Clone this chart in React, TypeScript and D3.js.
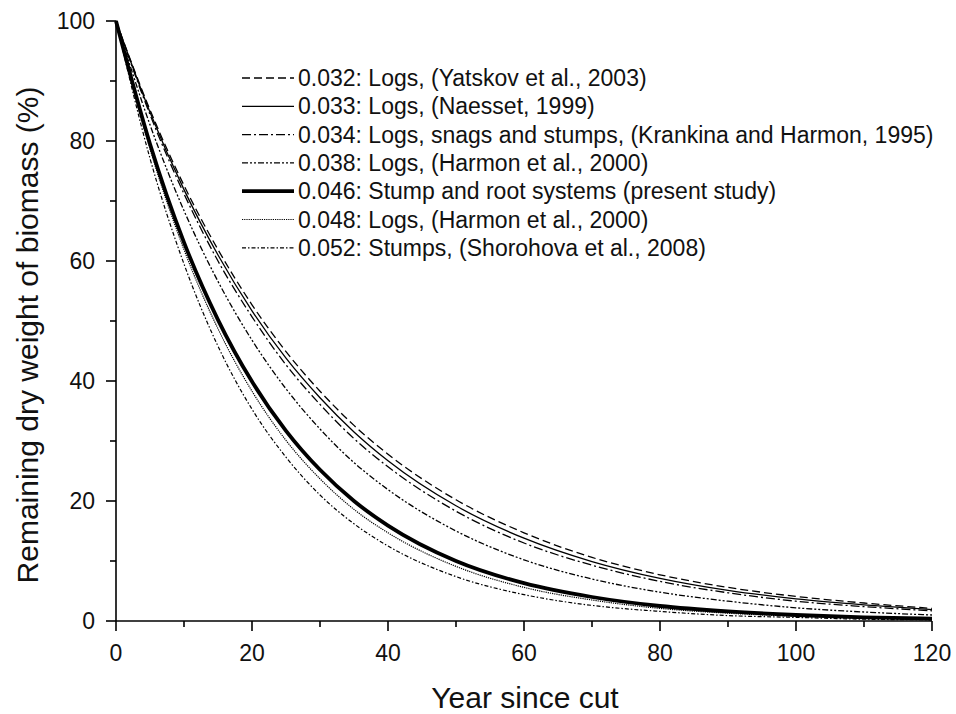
import React, { useEffect } from "react";
import * as d3 from "d3";

const years = [0, 5, 10, 15, 20, 25, 30, 35, 40, 50, 60, 70, 80, 90, 100, 110, 120];

// remaining dry weight (%) per source
const yatskov2003 = [100, 85.2, 72.6, 61.9, 52.7, 44.9, 38.3, 32.6, 27.8, 20.2, 14.7, 10.6, 7.7, 5.6, 4.1, 3.0, 2.1];
const naesset1999 = [100, 84.8, 71.9, 61.0, 51.7, 43.8, 37.2, 31.5, 26.7, 19.2, 13.8, 9.9, 7.1, 5.1, 3.7, 2.7, 1.9];
const krankina1995 = [100, 84.4, 71.2, 60.0, 50.7, 42.7, 36.1, 30.4, 25.7, 18.3, 13.0, 9.3, 6.6, 4.7, 3.3, 2.4, 1.7];
const harmon2000a = [100, 82.7, 68.4, 56.6, 46.8, 38.7, 32.0, 26.4, 21.9, 15.0, 10.2, 7.0, 4.8, 3.3, 2.2, 1.5, 1.0];
const presentStudy = [100, 79.5, 63.1, 50.2, 39.9, 31.7, 25.2, 20.0, 15.9, 10.0, 6.3, 4.0, 2.5, 1.6, 1.0, 0.6, 0.4];
const harmon2000b = [100, 78.7, 61.9, 48.7, 38.3, 30.1, 23.7, 18.6, 14.7, 9.1, 5.6, 3.5, 2.1, 1.3, 0.8, 0.5, 0.3];
const shorohova2008 = [100, 77.1, 59.5, 45.8, 35.3, 27.3, 21.0, 16.2, 12.5, 7.4, 4.4, 2.6, 1.6, 0.9, 0.6, 0.3, 0.2];

const seriesLabels = [
  "0.032: Logs, (Yatskov et al., 2003)",
  "0.033: Logs, (Naesset, 1999)",
  "0.034: Logs, snags and stumps, (Krankina and Harmon, 1995)",
  "0.038: Logs, (Harmon et al., 2000)",
  "0.046: Stump and root systems (present study)",
  "0.048: Logs, (Harmon et al., 2000)",
  "0.052: Stumps, (Shorohova et al., 2008)",
];
const seriesValues = [yatskov2003, naesset1999, krankina1995, harmon2000a, presentStudy, harmon2000b, shorohova2008];

const xTicks = [0, 20, 40, 60, 80, 100, 120];
const yTicks = [0, 20, 40, 60, 80, 100];

const width = 956;
const height = 714;
const font = "'Liberation Sans', Arial, Helvetica, sans-serif";

// line looks, same order as the series
const styles = [
  { w: 1.3, dash: "8,4" },
  { w: 1.3, dash: null },
  { w: 1.3, dash: "9,3,2,3" },
  { w: 1.3, dash: "6,2,2,2,2,2" },
  { w: 3.8, dash: null },
  { w: 1.2, dash: "1.2,1" },
  { w: 1.2, dash: "4,2,1.5,2" },
];

export default function App() {
  useEffect(() => {
    document.body.style.margin = "0";
  }, []);

  const x = d3.scaleLinear().domain([0, 120]).range([116, 932]);
  const y = d3.scaleLinear().domain([0, 100]).range([621, 21]);

  const line = d3
    .line<number>()
    .x((_, i) => x(years[i]))
    .y((d) => y(d))
    .curve(d3.curveMonotoneX);

  const xMinor = d3.range(10, 120, 20);
  const yMinor = d3.range(10, 100, 20);
  const majorLen = 10;
  const minorLen = 6;

  return (
    <svg width={width} height={height} style={{ display: "block", background: "#fff" }} fontFamily={font}>
      {/* curves */}
      <g fill="none" stroke="#000">
        {seriesValues.map((vals, i) => (
          <path
            key={i}
            d={line(vals) || ""}
            strokeWidth={styles[i].w}
            strokeDasharray={styles[i].dash || undefined}
          />
        ))}
      </g>

      {/* x axis */}
      <g stroke="#000" strokeWidth={1.6}>
        <line x1={x(0)} x2={x(120)} y1={y(0)} y2={y(0)} />
        {xTicks.map((t) => (
          <line key={t} x1={x(t)} x2={x(t)} y1={y(0)} y2={y(0) + majorLen} />
        ))}
        {xMinor.map((t) => (
          <line key={t} x1={x(t)} x2={x(t)} y1={y(0)} y2={y(0) + minorLen} />
        ))}
      </g>
      <g fontSize={23} textAnchor="middle" fill="#111">
        {xTicks.map((t) => (
          <text key={t} x={x(t)} y={y(0) + 40}>
            {t}
          </text>
        ))}
      </g>

      {/* y axis */}
      <g stroke="#000" strokeWidth={1.6}>
        <line x1={x(0)} x2={x(0)} y1={y(0)} y2={y(100)} />
        {yTicks.map((t) => (
          <line key={t} x1={x(0) - majorLen} x2={x(0)} y1={y(t)} y2={y(t)} />
        ))}
        {yMinor.map((t) => (
          <line key={t} x1={x(0) - minorLen} x2={x(0)} y1={y(t)} y2={y(t)} />
        ))}
      </g>
      <g fontSize={23} textAnchor="end" fill="#111">
        {yTicks.map((t) => (
          <text key={t} x={x(0) - 21} y={y(t) + 8}>
            {t}
          </text>
        ))}
      </g>

      {/* axis titles */}
      <text x={525} y={708} fontSize={30} textAnchor="middle" fill="#111">
        Year since cut
      </text>
      <text
        transform={`translate(38,335) rotate(-90)`}
        fontSize={30}
        textAnchor="middle"
        fill="#111"
      >
        Remaining dry weight of biomass (%)
      </text>

      {/* legend */}
      <g>
        {seriesLabels.map((lab, i) => {
          const ly = 78 + i * 28.3;
          return (
            <g key={i}>
              <line
                x1={242}
                x2={294}
                y1={ly}
                y2={ly}
                stroke="#000"
                strokeWidth={styles[i].w}
                strokeDasharray={styles[i].dash || undefined}
              />
              <text x={298} y={ly + 8} fontSize={23} fill="#111">
                {lab}
              </text>
            </g>
          );
        })}
      </g>
    </svg>
  );
}
